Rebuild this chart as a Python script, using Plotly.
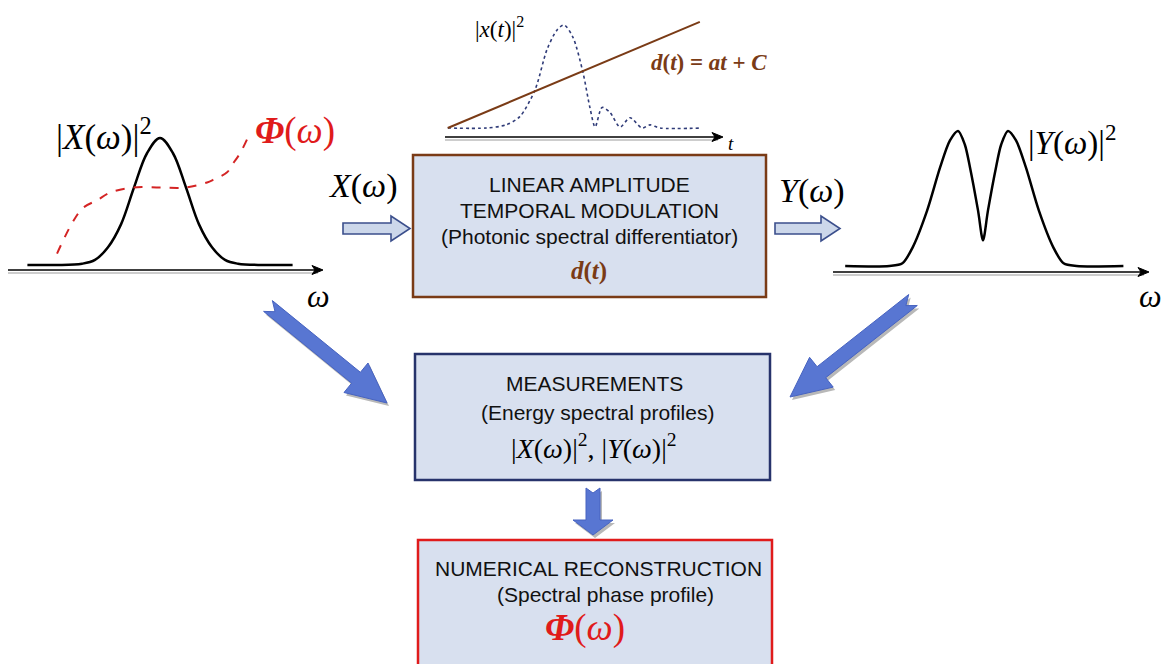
import math
import plotly.graph_objects as go

W, H = 1161, 664

# ---------------- data ----------------
# Input spectrum |X(w)|^2 (normalised) and its spectral phase Phi(w)
x_omega = [-5.1, -4.0, -3.0, -2.5, -2.0, -1.5, -1.0, -0.5, 0.0, 0.5, 1.0, 1.5, 2.0, 2.5, 3.0, 4.0, 5.1]
x_power = [0.0, 0.0, 0.01, 0.04, 0.14, 0.32, 0.61, 0.88, 1.0, 0.88, 0.61, 0.32, 0.14, 0.04, 0.01, 0.0, 0.0]
phi_omega = [-3.96, -3.38, -2.96, -2.42, -1.92, -1.04, 0.0, 0.96, 1.81, 2.04, 2.58, 2.81, 3.08, 3.46]
phi_value = [0.09, 0.33, 0.45, 0.51, 0.57, 0.61, 0.61, 0.61, 0.65, 0.67, 0.73, 0.80, 0.88, 1.04]

# Output spectrum |Y(w)|^2 after the spectral differentiator
y_omega = [-5.3, -3.6, -3.1, -2.7, -2.15, -1.65, -1.27, -0.96, -0.7, -0.5, -0.19, 0.0,
           0.19, 0.5, 0.7, 0.96, 1.27, 1.65, 2.15, 2.7, 3.1, 3.6, 5.4]
y_power = [0.0, 0.0, 0.02, 0.14, 0.41, 0.73, 0.93, 1.0, 0.9, 0.73, 0.41, 0.19,
           0.41, 0.73, 0.9, 1.0, 0.93, 0.73, 0.41, 0.14, 0.02, 0.0, 0.0]

# Temporal intensity |x(t)|^2 and linear modulation d(t) = at + C
t_pulse = [0.1, 1.5, 2.2, 2.7, 3.25, 3.68, 4.04, 4.3, 4.62, 4.98, 5.23, 5.42, 5.67,
           5.96, 6.32, 6.68, 7.11, 7.4, 7.76, 9.28]
x_t_power = [0.0, 0.0, 0.03, 0.11, 0.37, 0.76, 0.95, 1.0, 0.88, 0.54, 0.2, 0.01, 0.2,
             0.15, 0.01, 0.1, 0.0, 0.03, 0.0, 0.0]
t_mod = [0.1, 9.2]
d_mod = [0.0, 1.03]

# ---------------- styling ----------------
SERIF = "Liberation Serif"
SANS = "Liberation Sans"
BOX_FILL = "#d8e0ef"
BROWN = "#7a3b16"
NAVY = "#27336b"
RED = "#e01b1b"
ARROW_BLUE = "#5876d2"
BOX_TXT = 21


def inset_domain(px, py):
    """Paper-fraction domain from pixel positions of the axis range ends."""
    return [px[0] / W, px[1] / W], [1 - py[0] / H, 1 - py[1] / H]


fig = go.Figure()

# main canvas axes (pixel units, y downwards)
layout_axes = dict(
    xaxis=dict(range=[0, W], visible=False, fixedrange=True, domain=[0, 1]),
    yaxis=dict(range=[H, 0], visible=False, fixedrange=True, domain=[0, 1]),
)

insets = {
    2: dict(xr=[-6, 6.5], yr=[-0.3, 1.2], px=(4, 329), py=(303.1, 112.6)),
    3: dict(xr=[-6.5, 6.5], yr=[-0.3, 1.2], px=(814, 1152), py=(306.5, 104)),
    4: dict(xr=[-0.5, 10.5], yr=[-0.2, 1.2], px=(431.15, 735.85), py=(148.6, 4.4)),
}
for k, spec in insets.items():
    xd, yd = inset_domain(spec["px"], spec["py"])
    layout_axes[f"xaxis{k}"] = dict(range=spec["xr"], domain=xd, anchor=f"y{k}",
                                    visible=False, fixedrange=True)
    layout_axes[f"yaxis{k}"] = dict(range=spec["yr"], domain=yd, anchor=f"x{k}",
                                    visible=False, fixedrange=True)

# ---------------- curves ----------------
fig.add_trace(go.Scatter(x=x_omega, y=x_power, xaxis="x2", yaxis="y2", mode="lines",
                         line=dict(color="black", width=2.5, shape="spline", smoothing=1.0),
                         cliponaxis=False, hoverinfo="skip"))
fig.add_trace(go.Scatter(x=phi_omega, y=phi_value, xaxis="x2", yaxis="y2", mode="lines",
                         line=dict(color="#d42424", width=2, dash="dash", shape="spline"),
                         cliponaxis=False, hoverinfo="skip"))
fig.add_trace(go.Scatter(x=y_omega, y=y_power, xaxis="x3", yaxis="y3", mode="lines",
                         line=dict(color="black", width=2.5, shape="spline", smoothing=0.8),
                         cliponaxis=False, hoverinfo="skip"))
fig.add_trace(go.Scatter(x=t_pulse, y=x_t_power, xaxis="x4", yaxis="y4", mode="lines",
                         line=dict(color="#2f3b78", width=1.6, dash="dot", shape="spline", smoothing=0.8),
                         cliponaxis=False, hoverinfo="skip"))
fig.add_trace(go.Scatter(x=t_mod, y=d_mod, xaxis="x4", yaxis="y4", mode="lines",
                         line=dict(color=BROWN, width=2),
                         cliponaxis=False, hoverinfo="skip"))

# ---------------- shapes ----------------
shapes = []


def rect(x0, y0, x1, y1, line_color, width=2.5):
    shapes.append(dict(type="rect", xref="x", yref="y", x0=x0, y0=y0, x1=x1, y1=y1,
                       fillcolor=BOX_FILL, line=dict(color=line_color, width=width), layer="below"))


rect(413, 155, 766, 297, BROWN)
rect(415, 354, 770, 480, NAVY)
rect(418, 540, 772, 690, RED, 2.5)


def arrow_path(tail, tip, half_shaft, half_head, head_len, notch=0.0, offset=(0, 0)):
    dx, dy = tip[0] - tail[0], tip[1] - tail[1]
    L = math.hypot(dx, dy)
    ux, uy = dx / L, dy / L
    nx, ny = -uy, ux
    bx, by = tip[0] - ux * head_len, tip[1] - uy * head_len
    pts = [
        (tail[0] + nx * half_shaft, tail[1] + ny * half_shaft),
        (bx + nx * half_shaft, by + ny * half_shaft),
        (bx + nx * half_head, by + ny * half_head),
        tip,
        (bx - nx * half_head, by - ny * half_head),
        (bx - nx * half_shaft, by - ny * half_shaft),
        (tail[0] - nx * half_shaft, tail[1] - ny * half_shaft),
        (tail[0] + ux * notch, tail[1] + uy * notch),
    ]
    pts = [(x + offset[0], y + offset[1]) for x, y in pts]
    return "M " + " L ".join(f"{x:.1f},{y:.1f}" for x, y in pts) + " Z"


# hollow input/output arrows
for tail, tip in [((343, 228.5), (410, 228.5)), ((775, 228.5), (840, 228.5))]:
    shapes.append(dict(type="path", xref="x", yref="y",
                       path=arrow_path(tail, tip, 5.5, 12.5, 19),
                       fillcolor="#ccd7ea", line=dict(color="#3b4f8c", width=1.6)))

# solid blue arrows feeding the measurement / reconstruction boxes
block_arrows = [
    ((268, 306), (387, 403), 7, 19, 40, 9),
    ((913, 300), (790, 397), 7, 19, 40, 9),
    ((593, 488), (593, 535), 7, 20, 15, 5),
]
for tail, tip, hs, hh, hl, nt in block_arrows:
    shapes.append(dict(type="path", xref="x", yref="y",
                       path=arrow_path(tail, tip, hs, hh, hl, nt, offset=(2, 3)),
                       fillcolor="#b8b8b8", line=dict(width=0)))
    shapes.append(dict(type="path", xref="x", yref="y",
                       path=arrow_path(tail, tip, hs, hh, hl, nt),
                       fillcolor=ARROW_BLUE, line=dict(color="#4763c0", width=1)))

# spectral / temporal axes: grey shadow line, black line and an arrowhead
for x0, x1, y in [(8, 323, 270), (833, 1149, 272), (445, 723, 137)]:
    shapes.append(dict(type="line", xref="x", yref="y", x0=x0, x1=x1 - 5, y0=y + 3, y1=y + 3,
                       line=dict(color="#bdbdbd", width=1.5)))
    shapes.append(dict(type="line", xref="x", yref="y", x0=x0, x1=x1 - 4, y0=y, y1=y,
                       line=dict(color="black", width=1.5)))
    shapes.append(dict(type="path", xref="x", yref="y",
                       path=f"M {x1 - 11},{y - 4.5} L {x1},{y} L {x1 - 11},{y + 4.5} L {x1 - 8},{y} Z",
                       fillcolor="black", line=dict(color="black", width=1)))

# ---------------- annotations ----------------
ann = []


def label(x, y, text, size, family=SERIF, color="black", xanchor="center"):
    ann.append(dict(x=x, y=y, xref="x", yref="y", text=text, showarrow=False,
                    font=dict(family=family, size=size, color=color),
                    xanchor=xanchor, yanchor="middle"))


label(104, 134, "|<i>X</i>(<i>ω</i>)|<sup>2</sup>", 35)
label(295, 131, "<b><i>Φ</i></b>(<i>ω</i>)", 37, color=RED)
label(362, 186, "<i>X</i>(<i>ω</i>)", 34)
label(318, 296, "<i>ω</i>", 32)
label(812, 191, "<i>Y</i>(<i>ω</i>)", 34)
label(1072, 140, "|<i>Y</i>(<i>ω</i>)|<sup>2</sup>", 33)
label(1150, 296, "<i>ω</i>", 32)
label(499, 27, "|<i>x</i>(<i>t</i>)|<sup>2</sup>", 23)
label(709, 62, "<b><i>d</i>(<i>t</i>) = <i>at</i> + <i>C</i></b>", 23, color=BROWN)
label(731, 143, "<i>t</i>", 19)

# modulation box
label(589, 184, "LINEAR AMPLITUDE", BOX_TXT, SANS, "#111")
label(589, 210, "TEMPORAL MODULATION", BOX_TXT, SANS, "#111")
label(589, 236, "(Photonic spectral differentiator)", BOX_TXT, SANS, "#111")
label(589, 271, "<b><i>d</i>(<i>t</i>)</b>", 25, SERIF, BROWN)

# measurement box
label(594, 383, "MEASUREMENTS", BOX_TXT, SANS, "#111")
label(597, 412, "(Energy spectral profiles)", BOX_TXT, SANS, "#111")
label(594, 446, "|<i>X</i>(<i>ω</i>)|<sup>2</sup>, |<i>Y</i>(<i>ω</i>)|<sup>2</sup>", 28)

# reconstruction box
label(598, 568, "NUMERICAL RECONSTRUCTION", BOX_TXT, SANS, "#111")
label(605, 594, "(Spectral phase profile)", BOX_TXT, SANS, "#111")
label(585, 628, "<b><i>Φ</i></b>(<i>ω</i>)", 37, color=RED)

fig.update_layout(
    width=W, height=H,
    margin=dict(l=0, r=0, t=0, b=0),
    paper_bgcolor="white", plot_bgcolor="white",
    showlegend=False,
    shapes=shapes, annotations=ann,
    **layout_axes,
)

fig.write_html("out.html", config=dict(displayModeBar=False))
